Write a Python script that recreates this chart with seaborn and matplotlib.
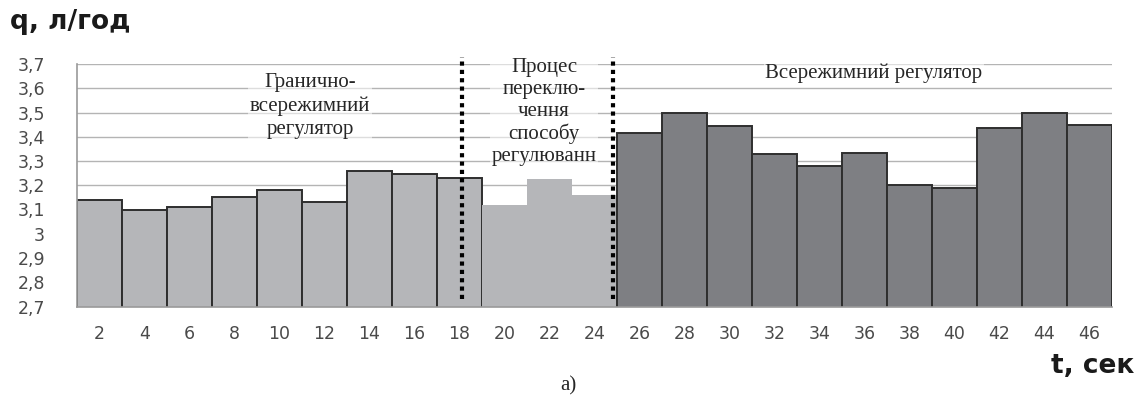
import numpy as np
import pandas as pd
import matplotlib
matplotlib.use("Agg")
import matplotlib.pyplot as plt
import seaborn as sns

# time stamps (sec) and flow values (l/h)
t_values = [2, 4, 6, 8, 10, 12, 14, 16, 18, 20, 22, 24,
            26, 28, 30, 32, 34, 36, 38, 40, 42, 44, 46]
q_values = [3.14, 3.10, 3.11, 3.15, 3.18, 3.13, 3.26, 3.245, 3.23,
            3.12, 3.225, 3.16,
            3.415, 3.50, 3.445, 3.33, 3.28, 3.335, 3.20, 3.19, 3.435, 3.50, 3.45]
groups = (["limit"] * 9) + (["switch"] * 3) + (["all"] * 11)

y_ticks = [2.7, 2.8, 2.9, 3.0, 3.1, 3.2, 3.3, 3.4, 3.5, 3.6, 3.7]
y_labels = ["2,7", "2,8", "2,9", "3", "3,1", "3,2", "3,3", "3,4", "3,5", "3,6", "3,7"]

# boundaries of the switching period (in bar index units)
switch_lines = [8.05, 11.4]

df = pd.DataFrame({"t": [str(v) for v in t_values], "q": q_values, "group": groups})
order = df["t"].tolist()

light = "#b5b6b9"
dark = "#7e7f83"
edge = "#2e2e2e"
grid_c = "#b4b4b4"

sns.set_style("white")
plt.rcParams["font.family"] = ["DejaVu Sans"]
sans = ["DejaVu Sans"]

fig = plt.figure(figsize=(11.37, 4.03), dpi=100)
ax = fig.add_axes([77 / 1137, 1 - 306.5 / 403, (1112 - 77) / 1137, (306.5 - 64) / 403])

styles = {"limit": (light, edge, 1.4), "switch": (light, "none", 0), "all": (dark, edge, 1.4)}
for g, (fc, ec, lw) in styles.items():
    sub = df[df["group"] == g]
    sns.barplot(data=sub, x="t", y="q", order=order, color=fc, width=1.0,
                edgecolor=ec, linewidth=lw, saturation=1, ax=ax, zorder=2)

ax.set_ylim(2.7, 3.7)
ax.set_xlim(-0.5, len(t_values) - 0.5)
ax.set_yticks(y_ticks)
ax.set_yticklabels(y_labels, family=sans)
ax.yaxis.grid(True, color=grid_c, linewidth=1, zorder=0)
ax.set_axisbelow(True)

for s in ["top", "right"]:
    ax.spines[s].set_visible(False)
for s in ["left", "bottom"]:
    ax.spines[s].set_color("#9a9a9a")
    ax.spines[s].set_linewidth(1.2)
    ax.spines[s].set_zorder(3)

ax.tick_params(axis="y", length=10, color=grid_c, labelsize=12.5, labelcolor="#4a4a4a", pad=13)
ax.set_xticks(np.arange(len(t_values)))
ax.set_xticklabels(order, family=sans)
ax.tick_params(axis="x", which="major", length=0, labelsize=12.5, labelcolor="#4a4a4a", pad=13)
ax.set_xticks(np.arange(len(t_values) + 1) - 0.5, minor=True)
ax.tick_params(axis="x", which="minor", length=6, color="#9a9a9a", width=1.2)
ax.set_xlabel("")
ax.set_ylabel("")

for xv in switch_lines:
    ax.vlines(xv, 2.73, 3.73, colors="black", linestyles=(0, (1, 1)), linewidth=3,
              zorder=4, clip_on=False)

box = dict(facecolor="white", edgecolor="none", alpha=0.55, pad=1)
serif = ["Liberation Serif", "DejaVu Serif"]
fig.text(310 / 1137, 1 - 106 / 403, "Гранично-\nвсережимний\nрегулятор", ha="center",
         va="center", fontsize=15, family=serif, linespacing=1.3, bbox=box, zorder=5)
fig.text(544 / 1137, 1 - 112 / 403, "Процес\nпереклю-\nчення\nспособу\nрегулюванн",
         ha="center", va="center", fontsize=15, family=serif, linespacing=1.2, bbox=box, zorder=5)
fig.text(874 / 1137, 1 - 73 / 403, "Всережимний регулятор", ha="center", va="center",
         fontsize=15, family=serif, bbox=box, zorder=5)

fig.text(10 / 1137, 1 - 22 / 403, "q, л/год", ha="left", va="center", fontsize=19,
         fontweight="bold", color="#1a1a1a", family=sans)
fig.text(1134 / 1137, 1 - 366 / 403, "t, сек", ha="right", va="center", fontsize=19,
         fontweight="bold", color="#1a1a1a", family=sans)
fig.text(568 / 1137, 1 - 386 / 403, "а)", ha="center", va="center", fontsize=15, family=serif)

fig.savefig("out.png", dpi=100)
